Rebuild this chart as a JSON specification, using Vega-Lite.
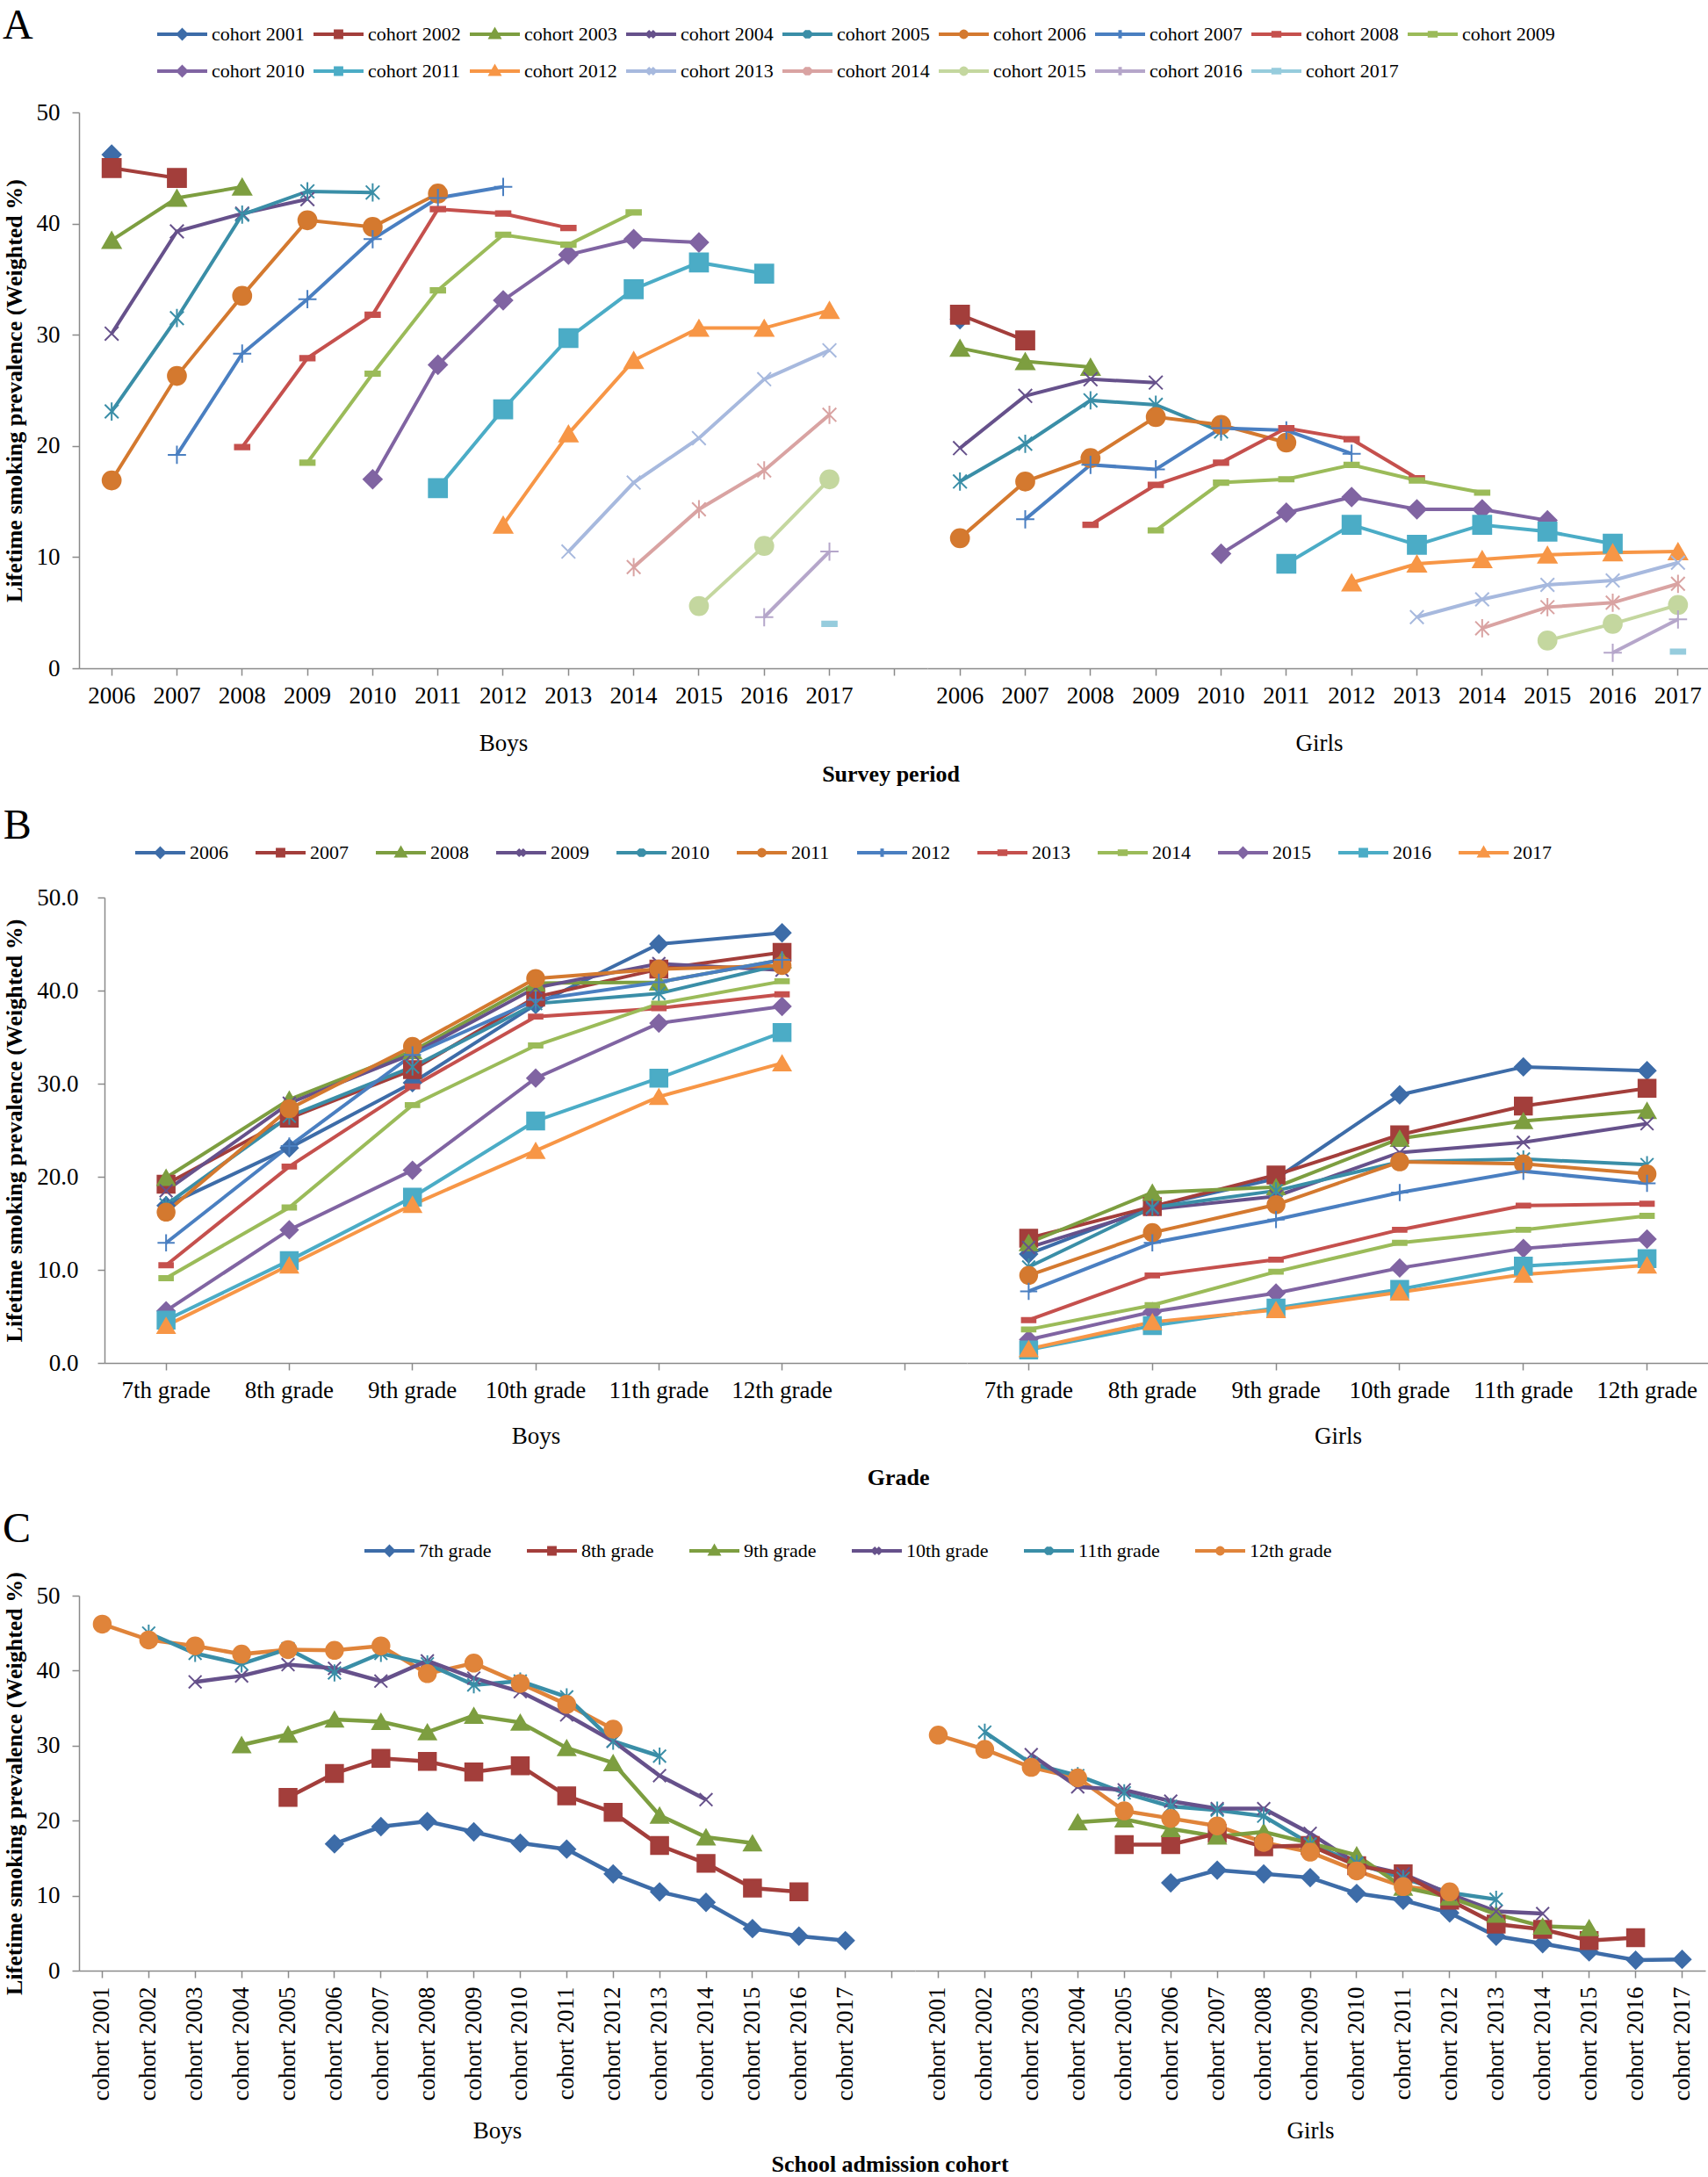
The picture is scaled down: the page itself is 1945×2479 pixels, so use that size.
{
"$schema":"https://vega.github.io/schema/vega-lite/v6.json",
"padding":{"left":2,"top":6,"right":0,"bottom":0},
"background":"white",
"config":{"font":"Liberation Serif","view":{"stroke":null},
"axis":{"grid":false,"domainColor":"#8a8a8a","tickColor":"#8a8a8a","domainWidth":1.5,"tickWidth":1.5,"tickSize":8,"labelFont":"Liberation Serif","titleFont":"Liberation Serif","labelFontSize":27,"labelColor":"black","titleColor":"black"},
"legend":{"labelFont":"Liberation Serif","labelFontSize":22,"labelColor":"black"},
"title":{"font":"Liberation Serif","color":"black"}},
"datasets":{"d":[
{"s":"Boys","c":"cohort 2001","yr":"2006","g":"12th grade","v":46.2},
{"s":"Boys","c":"cohort 2002","yr":"2006","g":"11th grade","v":45.0},
{"s":"Boys","c":"cohort 2002","yr":"2007","g":"12th grade","v":44.1},
{"s":"Boys","c":"cohort 2003","yr":"2006","g":"10th grade","v":38.5},
{"s":"Boys","c":"cohort 2003","yr":"2007","g":"11th grade","v":42.3},
{"s":"Boys","c":"cohort 2003","yr":"2008","g":"12th grade","v":43.3},
{"s":"Boys","c":"cohort 2004","yr":"2006","g":"9th grade","v":30.1},
{"s":"Boys","c":"cohort 2004","yr":"2007","g":"10th grade","v":39.3},
{"s":"Boys","c":"cohort 2004","yr":"2008","g":"11th grade","v":40.9},
{"s":"Boys","c":"cohort 2004","yr":"2009","g":"12th grade","v":42.2},
{"s":"Boys","c":"cohort 2005","yr":"2006","g":"8th grade","v":23.1},
{"s":"Boys","c":"cohort 2005","yr":"2007","g":"9th grade","v":31.5},
{"s":"Boys","c":"cohort 2005","yr":"2008","g":"10th grade","v":40.8},
{"s":"Boys","c":"cohort 2005","yr":"2009","g":"11th grade","v":42.9},
{"s":"Boys","c":"cohort 2005","yr":"2010","g":"12th grade","v":42.8},
{"s":"Boys","c":"cohort 2006","yr":"2006","g":"7th grade","v":16.9},
{"s":"Boys","c":"cohort 2006","yr":"2007","g":"8th grade","v":26.3},
{"s":"Boys","c":"cohort 2006","yr":"2008","g":"9th grade","v":33.5},
{"s":"Boys","c":"cohort 2006","yr":"2009","g":"10th grade","v":40.3},
{"s":"Boys","c":"cohort 2006","yr":"2010","g":"11th grade","v":39.7},
{"s":"Boys","c":"cohort 2006","yr":"2011","g":"12th grade","v":42.7},
{"s":"Boys","c":"cohort 2007","yr":"2007","g":"7th grade","v":19.2},
{"s":"Boys","c":"cohort 2007","yr":"2008","g":"8th grade","v":28.3},
{"s":"Boys","c":"cohort 2007","yr":"2009","g":"9th grade","v":33.2},
{"s":"Boys","c":"cohort 2007","yr":"2010","g":"10th grade","v":38.6},
{"s":"Boys","c":"cohort 2007","yr":"2011","g":"11th grade","v":42.3},
{"s":"Boys","c":"cohort 2007","yr":"2012","g":"12th grade","v":43.3},
{"s":"Boys","c":"cohort 2008","yr":"2008","g":"7th grade","v":19.9},
{"s":"Boys","c":"cohort 2008","yr":"2009","g":"8th grade","v":27.9},
{"s":"Boys","c":"cohort 2008","yr":"2010","g":"9th grade","v":31.8},
{"s":"Boys","c":"cohort 2008","yr":"2011","g":"10th grade","v":41.3},
{"s":"Boys","c":"cohort 2008","yr":"2012","g":"11th grade","v":40.9},
{"s":"Boys","c":"cohort 2008","yr":"2013","g":"12th grade","v":39.6},
{"s":"Boys","c":"cohort 2009","yr":"2009","g":"7th grade","v":18.5},
{"s":"Boys","c":"cohort 2009","yr":"2010","g":"8th grade","v":26.5},
{"s":"Boys","c":"cohort 2009","yr":"2011","g":"9th grade","v":34.0},
{"s":"Boys","c":"cohort 2009","yr":"2012","g":"10th grade","v":39.0},
{"s":"Boys","c":"cohort 2009","yr":"2013","g":"11th grade","v":38.1},
{"s":"Boys","c":"cohort 2009","yr":"2014","g":"12th grade","v":41.0},
{"s":"Boys","c":"cohort 2010","yr":"2010","g":"7th grade","v":17.0},
{"s":"Boys","c":"cohort 2010","yr":"2011","g":"8th grade","v":27.3},
{"s":"Boys","c":"cohort 2010","yr":"2012","g":"9th grade","v":33.1},
{"s":"Boys","c":"cohort 2010","yr":"2013","g":"10th grade","v":37.2},
{"s":"Boys","c":"cohort 2010","yr":"2014","g":"11th grade","v":38.6},
{"s":"Boys","c":"cohort 2010","yr":"2015","g":"12th grade","v":38.3},
{"s":"Boys","c":"cohort 2011","yr":"2011","g":"7th grade","v":16.2},
{"s":"Boys","c":"cohort 2011","yr":"2012","g":"8th grade","v":23.3},
{"s":"Boys","c":"cohort 2011","yr":"2013","g":"9th grade","v":29.7},
{"s":"Boys","c":"cohort 2011","yr":"2014","g":"10th grade","v":34.1},
{"s":"Boys","c":"cohort 2011","yr":"2015","g":"11th grade","v":36.5},
{"s":"Boys","c":"cohort 2011","yr":"2016","g":"12th grade","v":35.5},
{"s":"Boys","c":"cohort 2012","yr":"2012","g":"7th grade","v":12.9},
{"s":"Boys","c":"cohort 2012","yr":"2013","g":"8th grade","v":21.1},
{"s":"Boys","c":"cohort 2012","yr":"2014","g":"9th grade","v":27.7},
{"s":"Boys","c":"cohort 2012","yr":"2015","g":"10th grade","v":30.6},
{"s":"Boys","c":"cohort 2012","yr":"2016","g":"11th grade","v":30.6},
{"s":"Boys","c":"cohort 2012","yr":"2017","g":"12th grade","v":32.2},
{"s":"Boys","c":"cohort 2013","yr":"2013","g":"7th grade","v":10.5},
{"s":"Boys","c":"cohort 2013","yr":"2014","g":"8th grade","v":16.7},
{"s":"Boys","c":"cohort 2013","yr":"2015","g":"9th grade","v":20.7},
{"s":"Boys","c":"cohort 2013","yr":"2016","g":"10th grade","v":26.0},
{"s":"Boys","c":"cohort 2013","yr":"2017","g":"11th grade","v":28.6},
{"s":"Boys","c":"cohort 2014","yr":"2014","g":"7th grade","v":9.1},
{"s":"Boys","c":"cohort 2014","yr":"2015","g":"8th grade","v":14.3},
{"s":"Boys","c":"cohort 2014","yr":"2016","g":"9th grade","v":17.8},
{"s":"Boys","c":"cohort 2014","yr":"2017","g":"10th grade","v":22.8},
{"s":"Boys","c":"cohort 2015","yr":"2015","g":"7th grade","v":5.6},
{"s":"Boys","c":"cohort 2015","yr":"2016","g":"8th grade","v":11.0},
{"s":"Boys","c":"cohort 2015","yr":"2017","g":"9th grade","v":17.0},
{"s":"Boys","c":"cohort 2016","yr":"2016","g":"7th grade","v":4.6},
{"s":"Boys","c":"cohort 2016","yr":"2017","g":"8th grade","v":10.5},
{"s":"Boys","c":"cohort 2017","yr":"2017","g":"7th grade","v":4.0},
{"s":"Girls","c":"cohort 2001","yr":"2006","g":"12th grade","v":31.4},
{"s":"Girls","c":"cohort 2002","yr":"2006","g":"11th grade","v":31.8},
{"s":"Girls","c":"cohort 2002","yr":"2007","g":"12th grade","v":29.5},
{"s":"Girls","c":"cohort 2003","yr":"2006","g":"10th grade","v":28.8},
{"s":"Girls","c":"cohort 2003","yr":"2007","g":"11th grade","v":27.6},
{"s":"Girls","c":"cohort 2003","yr":"2008","g":"12th grade","v":27.1},
{"s":"Girls","c":"cohort 2004","yr":"2006","g":"9th grade","v":19.8},
{"s":"Girls","c":"cohort 2004","yr":"2007","g":"10th grade","v":24.5},
{"s":"Girls","c":"cohort 2004","yr":"2008","g":"11th grade","v":26.0},
{"s":"Girls","c":"cohort 2004","yr":"2009","g":"12th grade","v":25.7},
{"s":"Girls","c":"cohort 2005","yr":"2006","g":"8th grade","v":16.8},
{"s":"Girls","c":"cohort 2005","yr":"2007","g":"9th grade","v":20.2},
{"s":"Girls","c":"cohort 2005","yr":"2008","g":"10th grade","v":24.1},
{"s":"Girls","c":"cohort 2005","yr":"2009","g":"11th grade","v":23.7},
{"s":"Girls","c":"cohort 2005","yr":"2010","g":"12th grade","v":21.3},
{"s":"Girls","c":"cohort 2006","yr":"2006","g":"7th grade","v":11.7},
{"s":"Girls","c":"cohort 2006","yr":"2007","g":"8th grade","v":16.8},
{"s":"Girls","c":"cohort 2006","yr":"2008","g":"9th grade","v":18.9},
{"s":"Girls","c":"cohort 2006","yr":"2009","g":"10th grade","v":22.6},
{"s":"Girls","c":"cohort 2006","yr":"2010","g":"11th grade","v":21.9},
{"s":"Girls","c":"cohort 2006","yr":"2011","g":"12th grade","v":20.3},
{"s":"Girls","c":"cohort 2007","yr":"2007","g":"7th grade","v":13.4},
{"s":"Girls","c":"cohort 2007","yr":"2008","g":"8th grade","v":18.3},
{"s":"Girls","c":"cohort 2007","yr":"2009","g":"9th grade","v":17.9},
{"s":"Girls","c":"cohort 2007","yr":"2010","g":"10th grade","v":21.6},
{"s":"Girls","c":"cohort 2007","yr":"2011","g":"11th grade","v":21.4},
{"s":"Girls","c":"cohort 2007","yr":"2012","g":"12th grade","v":19.3},
{"s":"Girls","c":"cohort 2008","yr":"2008","g":"7th grade","v":12.9},
{"s":"Girls","c":"cohort 2008","yr":"2009","g":"8th grade","v":16.5},
{"s":"Girls","c":"cohort 2008","yr":"2010","g":"9th grade","v":18.5},
{"s":"Girls","c":"cohort 2008","yr":"2011","g":"10th grade","v":21.6},
{"s":"Girls","c":"cohort 2008","yr":"2012","g":"11th grade","v":20.6},
{"s":"Girls","c":"cohort 2008","yr":"2013","g":"12th grade","v":17.1},
{"s":"Girls","c":"cohort 2009","yr":"2009","g":"7th grade","v":12.4},
{"s":"Girls","c":"cohort 2009","yr":"2010","g":"8th grade","v":16.7},
{"s":"Girls","c":"cohort 2009","yr":"2011","g":"9th grade","v":17.0},
{"s":"Girls","c":"cohort 2009","yr":"2012","g":"10th grade","v":18.3},
{"s":"Girls","c":"cohort 2009","yr":"2013","g":"11th grade","v":16.9},
{"s":"Girls","c":"cohort 2009","yr":"2014","g":"12th grade","v":15.8},
{"s":"Girls","c":"cohort 2010","yr":"2010","g":"7th grade","v":10.3},
{"s":"Girls","c":"cohort 2010","yr":"2011","g":"8th grade","v":14.0},
{"s":"Girls","c":"cohort 2010","yr":"2012","g":"9th grade","v":15.4},
{"s":"Girls","c":"cohort 2010","yr":"2013","g":"10th grade","v":14.3},
{"s":"Girls","c":"cohort 2010","yr":"2014","g":"11th grade","v":14.3},
{"s":"Girls","c":"cohort 2010","yr":"2015","g":"12th grade","v":13.3},
{"s":"Girls","c":"cohort 2011","yr":"2011","g":"7th grade","v":9.4},
{"s":"Girls","c":"cohort 2011","yr":"2012","g":"8th grade","v":12.9},
{"s":"Girls","c":"cohort 2011","yr":"2013","g":"9th grade","v":11.1},
{"s":"Girls","c":"cohort 2011","yr":"2014","g":"10th grade","v":12.9},
{"s":"Girls","c":"cohort 2011","yr":"2015","g":"11th grade","v":12.3},
{"s":"Girls","c":"cohort 2011","yr":"2016","g":"12th grade","v":11.2},
{"s":"Girls","c":"cohort 2012","yr":"2012","g":"7th grade","v":7.7},
{"s":"Girls","c":"cohort 2012","yr":"2013","g":"8th grade","v":9.4},
{"s":"Girls","c":"cohort 2012","yr":"2014","g":"9th grade","v":9.8},
{"s":"Girls","c":"cohort 2012","yr":"2015","g":"10th grade","v":10.2},
{"s":"Girls","c":"cohort 2012","yr":"2016","g":"11th grade","v":10.4},
{"s":"Girls","c":"cohort 2012","yr":"2017","g":"12th grade","v":10.5},
{"s":"Girls","c":"cohort 2013","yr":"2013","g":"7th grade","v":4.6},
{"s":"Girls","c":"cohort 2013","yr":"2014","g":"8th grade","v":6.2},
{"s":"Girls","c":"cohort 2013","yr":"2015","g":"9th grade","v":7.5},
{"s":"Girls","c":"cohort 2013","yr":"2016","g":"10th grade","v":7.9},
{"s":"Girls","c":"cohort 2013","yr":"2017","g":"11th grade","v":9.5},
{"s":"Girls","c":"cohort 2014","yr":"2014","g":"7th grade","v":3.6},
{"s":"Girls","c":"cohort 2014","yr":"2015","g":"8th grade","v":5.5},
{"s":"Girls","c":"cohort 2014","yr":"2016","g":"9th grade","v":5.9},
{"s":"Girls","c":"cohort 2014","yr":"2017","g":"10th grade","v":7.6},
{"s":"Girls","c":"cohort 2015","yr":"2015","g":"7th grade","v":2.5},
{"s":"Girls","c":"cohort 2015","yr":"2016","g":"8th grade","v":4.0},
{"s":"Girls","c":"cohort 2015","yr":"2017","g":"9th grade","v":5.7},
{"s":"Girls","c":"cohort 2016","yr":"2016","g":"7th grade","v":1.4},
{"s":"Girls","c":"cohort 2016","yr":"2017","g":"8th grade","v":4.4},
{"s":"Girls","c":"cohort 2017","yr":"2017","g":"7th grade","v":1.5}
]},
"data":{"name":"d"},
"columns":1,
"align":"none",
"spacing":22,
"resolve":{"scale":{"color":"independent","fill":"independent","stroke":"independent","x":"independent","y":"independent"},"legend":{"color":"independent"},"axis":{"x":"independent","y":"independent"}},
"concat":[
{"title":{"text":"A","anchor":"start","fontSize":48,"fontWeight":"normal","offset":-26,"frame":"bounds"},
 "resolve":{"scale":{"color":"shared","fill":"shared","stroke":"shared"},"legend":{"color":"shared"}},
 "vconcat":[{
  "title":{"text":"Survey period","orient":"bottom","anchor":"middle","frame":"bounds","dx":39,"fontSize":26,"fontWeight":"bold","offset":10},
  "spacing":0,
  "resolve":{"scale":{"color":"shared","fill":"shared","stroke":"shared","x":"independent","y":"independent"},"axis":{"x":"independent","y":"independent"},"legend":{"color":"shared"}},
  "hconcat":[
   {"width":966,"height":633,
    "transform":[{"filter":"datum.s === 'Boys'"}],
    "encoding":{
     "x":{"field":"yr","type":"ordinal","scale":{"type":"band","domain":["2006","2007","2008","2009","2010","2011","2012","2013","2014","2015","2016","2017"," "],"paddingInner":0,"paddingOuter":0},"axis":{"title":"Boys","labelAngle":0,"labelPadding":10,"titlePadding":28,"titleFontSize":27,"titleFontWeight":"normal","labelOverlap":false}},
     "y":{"field":"v","type":"quantitative","scale":{"domain":[0,50]},"axis":{"values":[0,10,20,30,40,50],"title":"Lifetime smoking prevalence (Weighted %)","titleFontSize":26,"titleFontWeight":"bold","labelPadding":14,"titlePadding":12}},
     "order":{"field":"yr"}},
    "layer":[
     {"mark":{"type":"line","strokeWidth":4},
      "encoding":{"color":{"field":"c","type":"nominal","scale":{"domain":["cohort 2001","cohort 2002","cohort 2003","cohort 2004","cohort 2005","cohort 2006","cohort 2007","cohort 2008","cohort 2009","cohort 2010","cohort 2011","cohort 2012","cohort 2013","cohort 2014","cohort 2015","cohort 2016","cohort 2017"],"range":["#3D6CA8","#A33E3B","#7D9E40","#66518B","#3A8EA7","#D4792F","#4A7FC1","#C5504D","#9BBB59","#8064A2","#4BACC6","#F79646","#A7B9DE","#D9A3A2","#C4D79F","#B5A6CA","#96CCDD"]},
       "legend":{"orient":"none","legendX":87,"legendY":-100,"direction":"horizontal","columns":9,"title":null,"symbolType":"stroke","symbolSize":3249,"symbolStrokeWidth":4,"labelOffset":3,"columnPadding":8,"rowPadding":20,"clipHeight":22,"padding":0,
        "encode":{"symbols":{"update":{"shape":{"signal":"'M-1,0L1,0' + ['M0,-0.16L0.16,0L0,0.16L-0.16,0Z','M-0.12,-0.12L0.12,-0.12L0.12,0.12L-0.12,0.12Z','M0,-0.16L0.16,0.12L-0.16,0.12Z','M-0.13,-0.13L0.13,0.13M-0.13,0.13L0.13,-0.13','M-0.13,-0.13L0.13,0.13M-0.13,0.13L0.13,-0.13M0,-0.17L0,0.17','M-0.12,0A0.12,0.12,0,1,0,0.12,0A0.12,0.12,0,1,0,-0.12,0Z','M0,-0.17L0,0.17','M-0.13,-0.06L0.13,-0.06L0.13,0.06L-0.13,0.06Z','M-0.13,-0.06L0.13,-0.06L0.13,0.06L-0.13,0.06Z','M0,-0.16L0.16,0L0,0.16L-0.16,0Z','M-0.12,-0.12L0.12,-0.12L0.12,0.12L-0.12,0.12Z','M0,-0.16L0.16,0.12L-0.16,0.12Z','M-0.13,-0.13L0.13,0.13M-0.13,0.13L0.13,-0.13','M-0.13,-0.13L0.13,0.13M-0.13,0.13L0.13,-0.13M0,-0.17L0,0.17','M-0.12,0A0.12,0.12,0,1,0,0.12,0A0.12,0.12,0,1,0,-0.12,0Z','M0,-0.17L0,0.17','M-0.13,-0.06L0.13,-0.06L0.13,0.06L-0.13,0.06Z'][indexof(['cohort 2001','cohort 2002','cohort 2003','cohort 2004','cohort 2005','cohort 2006','cohort 2007','cohort 2008','cohort 2009','cohort 2010','cohort 2011','cohort 2012','cohort 2013','cohort 2014','cohort 2015','cohort 2016','cohort 2017'], datum.value)]"}}}}}}}},
     {"transform":[{"filter":{"field":"c","oneOf":["cohort 2001","cohort 2010"]}}],"mark":{"type":"point","shape":"diamond","filled":true,"opacity":1,"size":430,"strokeWidth":2},
      "encoding":{"fill":{"field":"c","type":"nominal","scale":{"domain":["cohort 2001","cohort 2002","cohort 2003","cohort 2004","cohort 2005","cohort 2006","cohort 2007","cohort 2008","cohort 2009","cohort 2010","cohort 2011","cohort 2012","cohort 2013","cohort 2014","cohort 2015","cohort 2016","cohort 2017"],"range":["#3D6CA8","#A33E3B","#7D9E40","#66518B","#3A8EA7","#D4792F","#4A7FC1","#C5504D","#9BBB59","#8064A2","#4BACC6","#F79646","#A7B9DE","#D9A3A2","#C4D79F","#B5A6CA","#96CCDD"]},"legend":null},
       "stroke":{"field":"c","type":"nominal","scale":{"domain":["cohort 2001","cohort 2002","cohort 2003","cohort 2004","cohort 2005","cohort 2006","cohort 2007","cohort 2008","cohort 2009","cohort 2010","cohort 2011","cohort 2012","cohort 2013","cohort 2014","cohort 2015","cohort 2016","cohort 2017"],"range":["#3D6CA8","#A33E3B","#7D9E40","#66518B","#3A8EA7","#D4792F","#4A7FC1","#C5504D","#9BBB59","#8064A2","#4BACC6","#F79646","#A7B9DE","#D9A3A2","#C4D79F","#B5A6CA","#96CCDD"]},"legend":null}}},
     {"transform":[{"filter":{"field":"c","oneOf":["cohort 2002","cohort 2011"]}}],"mark":{"type":"point","shape":"square","filled":true,"opacity":1,"size":430,"strokeWidth":2},
      "encoding":{"fill":{"field":"c","type":"nominal","legend":null},"stroke":{"field":"c","type":"nominal","legend":null}}},
     {"transform":[{"filter":{"field":"c","oneOf":["cohort 2003","cohort 2012"]}}],"mark":{"type":"point","shape":"triangle-up","filled":true,"opacity":1,"size":430,"strokeWidth":2},
      "encoding":{"fill":{"field":"c","type":"nominal","legend":null},"stroke":{"field":"c","type":"nominal","legend":null}}},
     {"transform":[{"filter":{"field":"c","oneOf":["cohort 2004","cohort 2013"]}}],"mark":{"type":"point","shape":"M-0.75,-0.75L0.75,0.75M-0.75,0.75L0.75,-0.75","filled":true,"opacity":1,"size":430,"strokeWidth":2},
      "encoding":{"fill":{"field":"c","type":"nominal","legend":null},"stroke":{"field":"c","type":"nominal","legend":null}}},
     {"transform":[{"filter":{"field":"c","oneOf":["cohort 2005","cohort 2014"]}}],"mark":{"type":"point","shape":"M-0.75,-0.75L0.75,0.75M-0.75,0.75L0.75,-0.75M0,-1L0,1","filled":true,"opacity":1,"size":430,"strokeWidth":2},
      "encoding":{"fill":{"field":"c","type":"nominal","legend":null},"stroke":{"field":"c","type":"nominal","legend":null}}},
     {"transform":[{"filter":{"field":"c","oneOf":["cohort 2006","cohort 2015"]}}],"mark":{"type":"point","shape":"circle","filled":true,"opacity":1,"size":430,"strokeWidth":2},
      "encoding":{"fill":{"field":"c","type":"nominal","legend":null},"stroke":{"field":"c","type":"nominal","legend":null}}},
     {"transform":[{"filter":{"field":"c","oneOf":["cohort 2007","cohort 2016"]}}],"mark":{"type":"point","shape":"M-1,0L1,0M0,-1L0,1","filled":true,"opacity":1,"size":430,"strokeWidth":2},
      "encoding":{"fill":{"field":"c","type":"nominal","legend":null},"stroke":{"field":"c","type":"nominal","legend":null}}},
     {"transform":[{"filter":{"field":"c","oneOf":["cohort 2008","cohort 2009","cohort 2017"]}}],"mark":{"type":"point","shape":"M-0.8,-0.25L0.8,-0.25L0.8,0.25L-0.8,0.25Z","filled":true,"opacity":1,"size":430,"strokeWidth":2},
      "encoding":{"fill":{"field":"c","type":"nominal","legend":null},"stroke":{"field":"c","type":"nominal","legend":null}}},
     {"data":{"values":[{"s":"Boys"}]},"mark":{"type":"rule","strokeWidth":1.5,"clip":false},
      "encoding":{"x":{"datum":"2006","type":"ordinal","bandPosition":0},"y":{"datum":0,"type":"quantitative"},"y2":{"datum":-7.7},"color":{"value":"#8a8a8a"}}},
     {"data":{"values":[{"s":"Boys"}]},"mark":{"type":"rule","strokeWidth":1.5,"clip":false},
      "encoding":{"x":{"datum":" ","type":"ordinal","bandPosition":1},"y":{"datum":0,"type":"quantitative"},"y2":{"datum":-7.7},"color":{"value":"#8a8a8a"}}}
    ]},
   {"width":892,"height":633,
    "transform":[{"filter":"datum.s === 'Girls'"}],
    "encoding":{
     "x":{"field":"yr","type":"ordinal","scale":{"type":"band","domain":["2006","2007","2008","2009","2010","2011","2012","2013","2014","2015","2016","2017"],"paddingInner":0,"paddingOuter":0},"axis":{"title":"Girls","labelAngle":0,"labelPadding":10,"titlePadding":28,"titleFontSize":27,"titleFontWeight":"normal","labelOverlap":false}},
     "y":{"field":"v","type":"quantitative","scale":{"domain":[0,50]},"axis":null},
     "order":{"field":"yr"}},
    "layer":[
     {"mark":{"type":"line","strokeWidth":4},"encoding":{"color":{"field":"c","type":"nominal","legend":null}}},
     {"transform":[{"filter":{"field":"c","oneOf":["cohort 2001","cohort 2010"]}}],"mark":{"type":"point","shape":"diamond","filled":true,"opacity":1,"size":430,"strokeWidth":2},
      "encoding":{"fill":{"field":"c","type":"nominal","legend":null},"stroke":{"field":"c","type":"nominal","legend":null}}},
     {"transform":[{"filter":{"field":"c","oneOf":["cohort 2002","cohort 2011"]}}],"mark":{"type":"point","shape":"square","filled":true,"opacity":1,"size":430,"strokeWidth":2},
      "encoding":{"fill":{"field":"c","type":"nominal","legend":null},"stroke":{"field":"c","type":"nominal","legend":null}}},
     {"transform":[{"filter":{"field":"c","oneOf":["cohort 2003","cohort 2012"]}}],"mark":{"type":"point","shape":"triangle-up","filled":true,"opacity":1,"size":430,"strokeWidth":2},
      "encoding":{"fill":{"field":"c","type":"nominal","legend":null},"stroke":{"field":"c","type":"nominal","legend":null}}},
     {"transform":[{"filter":{"field":"c","oneOf":["cohort 2004","cohort 2013"]}}],"mark":{"type":"point","shape":"M-0.75,-0.75L0.75,0.75M-0.75,0.75L0.75,-0.75","filled":true,"opacity":1,"size":430,"strokeWidth":2},
      "encoding":{"fill":{"field":"c","type":"nominal","legend":null},"stroke":{"field":"c","type":"nominal","legend":null}}},
     {"transform":[{"filter":{"field":"c","oneOf":["cohort 2005","cohort 2014"]}}],"mark":{"type":"point","shape":"M-0.75,-0.75L0.75,0.75M-0.75,0.75L0.75,-0.75M0,-1L0,1","filled":true,"opacity":1,"size":430,"strokeWidth":2},
      "encoding":{"fill":{"field":"c","type":"nominal","legend":null},"stroke":{"field":"c","type":"nominal","legend":null}}},
     {"transform":[{"filter":{"field":"c","oneOf":["cohort 2006","cohort 2015"]}}],"mark":{"type":"point","shape":"circle","filled":true,"opacity":1,"size":430,"strokeWidth":2},
      "encoding":{"fill":{"field":"c","type":"nominal","legend":null},"stroke":{"field":"c","type":"nominal","legend":null}}},
     {"transform":[{"filter":{"field":"c","oneOf":["cohort 2007","cohort 2016"]}}],"mark":{"type":"point","shape":"M-1,0L1,0M0,-1L0,1","filled":true,"opacity":1,"size":430,"strokeWidth":2},
      "encoding":{"fill":{"field":"c","type":"nominal","legend":null},"stroke":{"field":"c","type":"nominal","legend":null}}},
     {"transform":[{"filter":{"field":"c","oneOf":["cohort 2008","cohort 2009","cohort 2017"]}}],"mark":{"type":"point","shape":"M-0.8,-0.25L0.8,-0.25L0.8,0.25L-0.8,0.25Z","filled":true,"opacity":1,"size":430,"strokeWidth":2},
      "encoding":{"fill":{"field":"c","type":"nominal","legend":null},"stroke":{"field":"c","type":"nominal","legend":null}}}
    ]}
  ]}]},
{"title":{"text":"B","anchor":"start","fontSize":48,"fontWeight":"normal","offset":-5,"frame":"bounds"},
 "resolve":{"scale":{"color":"shared","fill":"shared","stroke":"shared"},"legend":{"color":"shared"}},
 "vconcat":[{
  "title":{"text":"Grade","orient":"bottom","anchor":"middle","frame":"bounds","dx":55,"fontSize":26,"fontWeight":"bold","offset":22},
  "spacing":0,
  "resolve":{"scale":{"color":"shared","fill":"shared","stroke":"shared","x":"independent","y":"independent"},"axis":{"x":"independent","y":"independent"},"legend":{"color":"shared"}},
  "hconcat":[
   {"width":982,"height":530,
    "transform":[{"filter":"datum.s === 'Boys'"}],
    "encoding":{
     "x":{"field":"g","type":"ordinal","scale":{"type":"band","domain":["7th grade","8th grade","9th grade","10th grade","11th grade","12th grade"," "],"range":[29,1011],"paddingInner":0,"paddingOuter":0},"axis":{"title":"Boys","labelAngle":0,"labelPadding":10,"titlePadding":26,"titleFontSize":27,"titleFontWeight":"normal","labelOverlap":false}},
     "y":{"field":"v","type":"quantitative","scale":{"domain":[0,50]},"axis":{"offset":-29,"values":[0,10,20,30,40,50],"format":".1f","title":"Lifetime smoking prevalence (Weighted %)","titleFontSize":26,"titleFontWeight":"bold","labelPadding":22,"titlePadding":12}},
     "order":{"field":"c","sort":"descending"}},
    "layer":[
     {"mark":{"type":"line","strokeWidth":4},
      "encoding":{"color":{"field":"yr","type":"nominal","scale":{"domain":["2006","2007","2008","2009","2010","2011","2012","2013","2014","2015","2016","2017"],"range":["#3D6CA8","#A33E3B","#7D9E40","#66518B","#3A8EA7","#D4792F","#4A7FC1","#C5504D","#9BBB59","#8064A2","#4BACC6","#F79646"]},
       "legend":{"orient":"none","legendX":62,"legendY":-62,"direction":"horizontal","columns":12,"title":null,"symbolType":"stroke","symbolSize":3249,"symbolStrokeWidth":4,"labelOffset":3,"columnPadding":29,"rowPadding":20,"clipHeight":22,"padding":0,
        "encode":{"symbols":{"update":{"shape":{"signal":"'M-1,0L1,0' + ['M0,-0.16L0.16,0L0,0.16L-0.16,0Z','M-0.12,-0.12L0.12,-0.12L0.12,0.12L-0.12,0.12Z','M0,-0.16L0.16,0.12L-0.16,0.12Z','M-0.13,-0.13L0.13,0.13M-0.13,0.13L0.13,-0.13','M-0.13,-0.13L0.13,0.13M-0.13,0.13L0.13,-0.13M0,-0.17L0,0.17','M-0.12,0A0.12,0.12,0,1,0,0.12,0A0.12,0.12,0,1,0,-0.12,0Z','M0,-0.17L0,0.17','M-0.13,-0.06L0.13,-0.06L0.13,0.06L-0.13,0.06Z','M-0.13,-0.06L0.13,-0.06L0.13,0.06L-0.13,0.06Z','M0,-0.16L0.16,0L0,0.16L-0.16,0Z','M-0.12,-0.12L0.12,-0.12L0.12,0.12L-0.12,0.12Z','M0,-0.16L0.16,0.12L-0.16,0.12Z'][indexof(['2006','2007','2008','2009','2010','2011','2012','2013','2014','2015','2016','2017'], datum.value)]"}}}}}}}},
     {"transform":[{"filter":{"field":"yr","oneOf":["2006","2015"]}}],"mark":{"type":"point","shape":"diamond","filled":true,"opacity":1,"size":380,"strokeWidth":2},
      "encoding":{"fill":{"field":"yr","type":"nominal","scale":{"domain":["2006","2007","2008","2009","2010","2011","2012","2013","2014","2015","2016","2017"],"range":["#3D6CA8","#A33E3B","#7D9E40","#66518B","#3A8EA7","#D4792F","#4A7FC1","#C5504D","#9BBB59","#8064A2","#4BACC6","#F79646"]},"legend":null},
       "stroke":{"field":"yr","type":"nominal","scale":{"domain":["2006","2007","2008","2009","2010","2011","2012","2013","2014","2015","2016","2017"],"range":["#3D6CA8","#A33E3B","#7D9E40","#66518B","#3A8EA7","#D4792F","#4A7FC1","#C5504D","#9BBB59","#8064A2","#4BACC6","#F79646"]},"legend":null}}},
     {"transform":[{"filter":{"field":"yr","oneOf":["2007","2016"]}}],"mark":{"type":"point","shape":"square","filled":true,"opacity":1,"size":380,"strokeWidth":2},
      "encoding":{"fill":{"field":"yr","type":"nominal","legend":null},"stroke":{"field":"yr","type":"nominal","legend":null}}},
     {"transform":[{"filter":{"field":"yr","oneOf":["2008","2017"]}}],"mark":{"type":"point","shape":"triangle-up","filled":true,"opacity":1,"size":380,"strokeWidth":2},
      "encoding":{"fill":{"field":"yr","type":"nominal","legend":null},"stroke":{"field":"yr","type":"nominal","legend":null}}},
     {"transform":[{"filter":{"field":"yr","oneOf":["2009"]}}],"mark":{"type":"point","shape":"M-0.75,-0.75L0.75,0.75M-0.75,0.75L0.75,-0.75","filled":true,"opacity":1,"size":380,"strokeWidth":2},
      "encoding":{"fill":{"field":"yr","type":"nominal","legend":null},"stroke":{"field":"yr","type":"nominal","legend":null}}},
     {"transform":[{"filter":{"field":"yr","oneOf":["2010"]}}],"mark":{"type":"point","shape":"M-0.75,-0.75L0.75,0.75M-0.75,0.75L0.75,-0.75M0,-1L0,1","filled":true,"opacity":1,"size":380,"strokeWidth":2},
      "encoding":{"fill":{"field":"yr","type":"nominal","legend":null},"stroke":{"field":"yr","type":"nominal","legend":null}}},
     {"transform":[{"filter":{"field":"yr","oneOf":["2011"]}}],"mark":{"type":"point","shape":"circle","filled":true,"opacity":1,"size":380,"strokeWidth":2},
      "encoding":{"fill":{"field":"yr","type":"nominal","legend":null},"stroke":{"field":"yr","type":"nominal","legend":null}}},
     {"transform":[{"filter":{"field":"yr","oneOf":["2012"]}}],"mark":{"type":"point","shape":"M-1,0L1,0M0,-1L0,1","filled":true,"opacity":1,"size":380,"strokeWidth":2},
      "encoding":{"fill":{"field":"yr","type":"nominal","legend":null},"stroke":{"field":"yr","type":"nominal","legend":null}}},
     {"transform":[{"filter":{"field":"yr","oneOf":["2013","2014"]}}],"mark":{"type":"point","shape":"M-0.8,-0.25L0.8,-0.25L0.8,0.25L-0.8,0.25Z","filled":true,"opacity":1,"size":380,"strokeWidth":2},
      "encoding":{"fill":{"field":"yr","type":"nominal","legend":null},"stroke":{"field":"yr","type":"nominal","legend":null}}},
     {"data":{"values":[{"s":"Boys"}]},"mark":{"type":"rule","strokeWidth":1.5,"clip":false},
      "encoding":{"x":{"datum":"7th grade","type":"ordinal","bandPosition":0},"y":{"datum":0,"type":"quantitative"},"y2":{"datum":-9.7},"color":{"value":"#8a8a8a"}}},
     {"data":{"values":[{"s":"Boys"}]},"mark":{"type":"rule","strokeWidth":1.5,"clip":false},
      "encoding":{"x":{"datum":" ","type":"ordinal","bandPosition":1},"y":{"datum":0,"type":"quantitative"},"y2":{"datum":-9.7},"color":{"value":"#8a8a8a"}}}
    ]},
   {"width":845,"height":530,
    "transform":[{"filter":"datum.s === 'Girls'"}],
    "encoding":{
     "x":{"field":"g","type":"ordinal","scale":{"type":"band","domain":["7th grade","8th grade","9th grade","10th grade","11th grade","12th grade"],"range":[29,874],"paddingInner":0,"paddingOuter":0},"axis":{"title":"Girls","labelAngle":0,"labelPadding":10,"titlePadding":26,"titleFontSize":27,"titleFontWeight":"normal","labelOverlap":false}},
     "y":{"field":"v","type":"quantitative","scale":{"domain":[0,50]},"axis":null},
     "order":{"field":"c","sort":"descending"}},
    "layer":[
     {"mark":{"type":"line","strokeWidth":4},"encoding":{"color":{"field":"yr","type":"nominal","legend":null}}},
     {"transform":[{"filter":{"field":"yr","oneOf":["2006","2015"]}}],"mark":{"type":"point","shape":"diamond","filled":true,"opacity":1,"size":380,"strokeWidth":2},
      "encoding":{"fill":{"field":"yr","type":"nominal","legend":null},"stroke":{"field":"yr","type":"nominal","legend":null}}},
     {"transform":[{"filter":{"field":"yr","oneOf":["2007","2016"]}}],"mark":{"type":"point","shape":"square","filled":true,"opacity":1,"size":380,"strokeWidth":2},
      "encoding":{"fill":{"field":"yr","type":"nominal","legend":null},"stroke":{"field":"yr","type":"nominal","legend":null}}},
     {"transform":[{"filter":{"field":"yr","oneOf":["2008","2017"]}}],"mark":{"type":"point","shape":"triangle-up","filled":true,"opacity":1,"size":380,"strokeWidth":2},
      "encoding":{"fill":{"field":"yr","type":"nominal","legend":null},"stroke":{"field":"yr","type":"nominal","legend":null}}},
     {"transform":[{"filter":{"field":"yr","oneOf":["2009"]}}],"mark":{"type":"point","shape":"M-0.75,-0.75L0.75,0.75M-0.75,0.75L0.75,-0.75","filled":true,"opacity":1,"size":380,"strokeWidth":2},
      "encoding":{"fill":{"field":"yr","type":"nominal","legend":null},"stroke":{"field":"yr","type":"nominal","legend":null}}},
     {"transform":[{"filter":{"field":"yr","oneOf":["2010"]}}],"mark":{"type":"point","shape":"M-0.75,-0.75L0.75,0.75M-0.75,0.75L0.75,-0.75M0,-1L0,1","filled":true,"opacity":1,"size":380,"strokeWidth":2},
      "encoding":{"fill":{"field":"yr","type":"nominal","legend":null},"stroke":{"field":"yr","type":"nominal","legend":null}}},
     {"transform":[{"filter":{"field":"yr","oneOf":["2011"]}}],"mark":{"type":"point","shape":"circle","filled":true,"opacity":1,"size":380,"strokeWidth":2},
      "encoding":{"fill":{"field":"yr","type":"nominal","legend":null},"stroke":{"field":"yr","type":"nominal","legend":null}}},
     {"transform":[{"filter":{"field":"yr","oneOf":["2012"]}}],"mark":{"type":"point","shape":"M-1,0L1,0M0,-1L0,1","filled":true,"opacity":1,"size":380,"strokeWidth":2},
      "encoding":{"fill":{"field":"yr","type":"nominal","legend":null},"stroke":{"field":"yr","type":"nominal","legend":null}}},
     {"transform":[{"filter":{"field":"yr","oneOf":["2013","2014"]}}],"mark":{"type":"point","shape":"M-0.8,-0.25L0.8,-0.25L0.8,0.25L-0.8,0.25Z","filled":true,"opacity":1,"size":380,"strokeWidth":2},
      "encoding":{"fill":{"field":"yr","type":"nominal","legend":null},"stroke":{"field":"yr","type":"nominal","legend":null}}}
    ]}
  ]}]},
{"title":{"text":"C","anchor":"start","fontSize":48,"fontWeight":"normal","offset":-11,"frame":"bounds"},
 "resolve":{"scale":{"color":"shared","fill":"shared","stroke":"shared"},"legend":{"color":"shared"}},
 "vconcat":[{
  "title":{"text":"School admission  cohort","orient":"bottom","anchor":"middle","frame":"bounds","dx":41,"fontSize":26,"fontWeight":"bold","offset":12},
  "spacing":0,
  "resolve":{"scale":{"color":"shared","fill":"shared","stroke":"shared","x":"independent","y":"independent"},"axis":{"x":"independent","y":"independent"},"legend":{"color":"shared"}},
  "hconcat":[
   {"width":952,"height":427,
    "transform":[{"filter":"datum.s === 'Boys'"}],
    "encoding":{
     "x":{"field":"c","type":"ordinal","scale":{"type":"band","domain":["cohort 2001","cohort 2002","cohort 2003","cohort 2004","cohort 2005","cohort 2006","cohort 2007","cohort 2008","cohort 2009","cohort 2010","cohort 2011","cohort 2012","cohort 2013","cohort 2014","cohort 2015","cohort 2016","cohort 2017"," "],"paddingInner":0,"paddingOuter":0},"axis":{"title":"Boys","labelAngle":-90,"labelPadding":10,"titlePadding":22,"titleFontSize":27,"titleFontWeight":"normal","labelOverlap":false}},
     "y":{"field":"v","type":"quantitative","scale":{"domain":[0,50]},"axis":{"values":[0,10,20,30,40,50],"title":"Lifetime smoking prevalence (Weighted %)","titleFontSize":26,"titleFontWeight":"bold","labelPadding":14,"titlePadding":12}},
     "order":{"field":"c"}},
    "layer":[
     {"mark":{"type":"line","strokeWidth":4.5},
      "encoding":{"color":{"field":"g","type":"nominal","scale":{"domain":["7th grade","8th grade","9th grade","10th grade","11th grade","12th grade"],"range":["#3D6CA8","#A33E3B","#7D9E40","#66518B","#3A8EA7","#E0843A"]},
       "legend":{"orient":"none","legendX":323,"legendY":-62,"direction":"horizontal","columns":6,"title":null,"symbolType":"stroke","symbolSize":3249,"symbolStrokeWidth":4,"labelOffset":3,"columnPadding":38,"rowPadding":20,"clipHeight":22,"padding":0,
        "encode":{"symbols":{"update":{"shape":{"signal":"'M-1,0L1,0' + ['M0,-0.16L0.16,0L0,0.16L-0.16,0Z','M-0.12,-0.12L0.12,-0.12L0.12,0.12L-0.12,0.12Z','M0,-0.16L0.16,0.12L-0.16,0.12Z','M-0.13,-0.13L0.13,0.13M-0.13,0.13L0.13,-0.13','M-0.13,-0.13L0.13,0.13M-0.13,0.13L0.13,-0.13M0,-0.17L0,0.17','M-0.12,0A0.12,0.12,0,1,0,0.12,0A0.12,0.12,0,1,0,-0.12,0Z'][indexof(['7th grade','8th grade','9th grade','10th grade','11th grade','12th grade'], datum.value)]"}}}}}}}},
     {"transform":[{"filter":{"field":"g","oneOf":["7th grade"]}}],"mark":{"type":"point","shape":"diamond","filled":true,"opacity":1,"size":380,"strokeWidth":2},
      "encoding":{"fill":{"field":"g","type":"nominal","scale":{"domain":["7th grade","8th grade","9th grade","10th grade","11th grade","12th grade"],"range":["#3D6CA8","#A33E3B","#7D9E40","#66518B","#3A8EA7","#E0843A"]},"legend":null},
       "stroke":{"field":"g","type":"nominal","scale":{"domain":["7th grade","8th grade","9th grade","10th grade","11th grade","12th grade"],"range":["#3D6CA8","#A33E3B","#7D9E40","#66518B","#3A8EA7","#E0843A"]},"legend":null}}},
     {"transform":[{"filter":{"field":"g","oneOf":["8th grade"]}}],"mark":{"type":"point","shape":"square","filled":true,"opacity":1,"size":380,"strokeWidth":2},
      "encoding":{"fill":{"field":"g","type":"nominal","legend":null},"stroke":{"field":"g","type":"nominal","legend":null}}},
     {"transform":[{"filter":{"field":"g","oneOf":["9th grade"]}}],"mark":{"type":"point","shape":"triangle-up","filled":true,"opacity":1,"size":380,"strokeWidth":2},
      "encoding":{"fill":{"field":"g","type":"nominal","legend":null},"stroke":{"field":"g","type":"nominal","legend":null}}},
     {"transform":[{"filter":{"field":"g","oneOf":["10th grade"]}}],"mark":{"type":"point","shape":"M-0.75,-0.75L0.75,0.75M-0.75,0.75L0.75,-0.75","filled":true,"opacity":1,"size":380,"strokeWidth":2},
      "encoding":{"fill":{"field":"g","type":"nominal","legend":null},"stroke":{"field":"g","type":"nominal","legend":null}}},
     {"transform":[{"filter":{"field":"g","oneOf":["11th grade"]}}],"mark":{"type":"point","shape":"M-0.75,-0.75L0.75,0.75M-0.75,0.75L0.75,-0.75M0,-1L0,1","filled":true,"opacity":1,"size":380,"strokeWidth":2},
      "encoding":{"fill":{"field":"g","type":"nominal","legend":null},"stroke":{"field":"g","type":"nominal","legend":null}}},
     {"transform":[{"filter":{"field":"g","oneOf":["12th grade"]}}],"mark":{"type":"point","shape":"circle","filled":true,"opacity":1,"size":380,"strokeWidth":2},
      "encoding":{"fill":{"field":"g","type":"nominal","legend":null},"stroke":{"field":"g","type":"nominal","legend":null}}},
     {"data":{"values":[{"s":"Boys"}]},"mark":{"type":"rule","strokeWidth":1.5,"clip":false},
      "encoding":{"x":{"datum":"cohort 2001","type":"ordinal","bandPosition":0},"y":{"datum":0,"type":"quantitative"},"y2":{"datum":-24},"color":{"value":"#8a8a8a"}}},
     {"data":{"values":[{"s":"Boys"}]},"mark":{"type":"rule","strokeWidth":1.5,"clip":false},
      "encoding":{"x":{"datum":" ","type":"ordinal","bandPosition":1},"y":{"datum":0,"type":"quantitative"},"y2":{"datum":-24},"color":{"value":"#8a8a8a"}}}
    ]},
   {"width":900,"height":427,
    "transform":[{"filter":"datum.s === 'Girls'"}],
    "encoding":{
     "x":{"field":"c","type":"ordinal","scale":{"type":"band","domain":["cohort 2001","cohort 2002","cohort 2003","cohort 2004","cohort 2005","cohort 2006","cohort 2007","cohort 2008","cohort 2009","cohort 2010","cohort 2011","cohort 2012","cohort 2013","cohort 2014","cohort 2015","cohort 2016","cohort 2017"],"paddingInner":0,"paddingOuter":0},"axis":{"title":"Girls","labelAngle":-90,"labelPadding":10,"titlePadding":22,"titleFontSize":27,"titleFontWeight":"normal","labelOverlap":false}},
     "y":{"field":"v","type":"quantitative","scale":{"domain":[0,50]},"axis":null},
     "order":{"field":"c"}},
    "layer":[
     {"mark":{"type":"line","strokeWidth":4.5},"encoding":{"color":{"field":"g","type":"nominal","legend":null}}},
     {"transform":[{"filter":{"field":"g","oneOf":["7th grade"]}}],"mark":{"type":"point","shape":"diamond","filled":true,"opacity":1,"size":380,"strokeWidth":2},
      "encoding":{"fill":{"field":"g","type":"nominal","legend":null},"stroke":{"field":"g","type":"nominal","legend":null}}},
     {"transform":[{"filter":{"field":"g","oneOf":["8th grade"]}}],"mark":{"type":"point","shape":"square","filled":true,"opacity":1,"size":380,"strokeWidth":2},
      "encoding":{"fill":{"field":"g","type":"nominal","legend":null},"stroke":{"field":"g","type":"nominal","legend":null}}},
     {"transform":[{"filter":{"field":"g","oneOf":["9th grade"]}}],"mark":{"type":"point","shape":"triangle-up","filled":true,"opacity":1,"size":380,"strokeWidth":2},
      "encoding":{"fill":{"field":"g","type":"nominal","legend":null},"stroke":{"field":"g","type":"nominal","legend":null}}},
     {"transform":[{"filter":{"field":"g","oneOf":["10th grade"]}}],"mark":{"type":"point","shape":"M-0.75,-0.75L0.75,0.75M-0.75,0.75L0.75,-0.75","filled":true,"opacity":1,"size":380,"strokeWidth":2},
      "encoding":{"fill":{"field":"g","type":"nominal","legend":null},"stroke":{"field":"g","type":"nominal","legend":null}}},
     {"transform":[{"filter":{"field":"g","oneOf":["11th grade"]}}],"mark":{"type":"point","shape":"M-0.75,-0.75L0.75,0.75M-0.75,0.75L0.75,-0.75M0,-1L0,1","filled":true,"opacity":1,"size":380,"strokeWidth":2},
      "encoding":{"fill":{"field":"g","type":"nominal","legend":null},"stroke":{"field":"g","type":"nominal","legend":null}}},
     {"transform":[{"filter":{"field":"g","oneOf":["12th grade"]}}],"mark":{"type":"point","shape":"circle","filled":true,"opacity":1,"size":380,"strokeWidth":2},
      "encoding":{"fill":{"field":"g","type":"nominal","legend":null},"stroke":{"field":"g","type":"nominal","legend":null}}}
    ]}
  ]}]}
]
}
